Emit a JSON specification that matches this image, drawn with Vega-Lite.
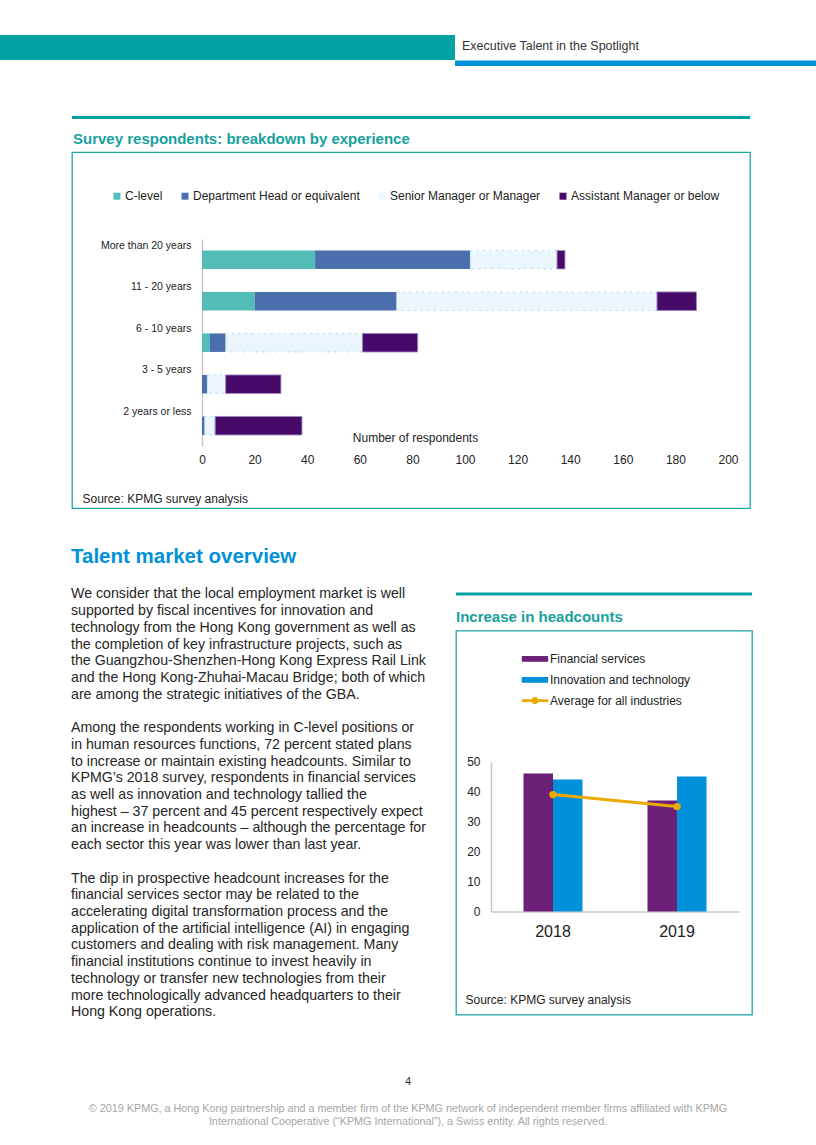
{
  "$schema": "https://vega.github.io/schema/vega-lite/v6.json",
  "padding": {"left": 0, "top": 35, "right": 0, "bottom": 0},
  "background": "white",
  "config": {
    "font": "Liberation Sans",
    "view": {"stroke": null},
    "axis": {"labelFont": "Liberation Sans", "titleFont": "Liberation Sans"},
    "legend": {"labelFont": "Liberation Sans"},
    "title": {"font": "Liberation Sans"}
  },
  "spacing": 0,
  "resolve": {"scale": {"color": "independent", "fill": "independent"}, "legend": {"color": "independent", "fill": "independent"}},
  "vconcat": [
    {
      "hconcat": [
        {"width": 455, "height": 25, "view": {"fill": "#00a3a1", "stroke": null}, "data": {"values": []}, "mark": "rect", "encoding": {}},
        {
          "vconcat": [
            {"width": 1, "height": 1, "data": {"values": []}, "mark": "rect", "encoding": {}},
            {
              "width": 361, "height": 5.5,
              "view": {"fill": "#0091da", "stroke": null},
              "title": {"text": "Executive Talent in the Spotlight", "anchor": "start", "fontSize": 12.5, "fontWeight": "normal", "color": "#333333", "offset": 8, "dx": 7},
              "data": {"values": []}, "mark": "rect", "encoding": {}
            }
          ],
          "spacing": 3.6
        }
      ],
      "spacing": 0
    },
    {"width": 1, "height": 48.3, "data": {"values": []}, "mark": "rect", "encoding": {}},
    {
      "resolve": {"scale": {"color": "independent", "fill": "independent"}, "legend": {"color": "independent", "fill": "independent"}},
      "hconcat": [
        {"width": 71, "height": 1, "data": {"values": []}, "mark": "rect", "encoding": {}},
        {
          "resolve": {"scale": {"color": "independent", "fill": "independent"}, "legend": {"color": "independent", "fill": "independent"}},
          "vconcat": [
            {"width": 678, "height": 3, "view": {"fill": "#00a3a1", "stroke": null}, "data": {"values": []}, "mark": "rect", "encoding": {}},
            {
              "width": 678, "height": 356,
              "view": {"stroke": "#1ba7a3", "strokeWidth": 1.3},
              "title": {"text": "Survey respondents: breakdown by experience", "anchor": "start", "fontSize": 15, "fontWeight": "bold", "color": "#17a19d", "offset": 5, "dx": 1},
              "data": {"values": [
                {"experience": "More than 20 years", "level": "C-level", "rank": 1, "respondents": 43},
                {"experience": "More than 20 years", "level": "Department Head or equivalent", "rank": 2, "respondents": 59},
                {"experience": "More than 20 years", "level": "Senior Manager or Manager", "rank": 3, "respondents": 33},
                {"experience": "More than 20 years", "level": "Assistant Manager or below", "rank": 4, "respondents": 3},
                {"experience": "11 - 20 years", "level": "C-level", "rank": 1, "respondents": 20},
                {"experience": "11 - 20 years", "level": "Department Head or equivalent", "rank": 2, "respondents": 54},
                {"experience": "11 - 20 years", "level": "Senior Manager or Manager", "rank": 3, "respondents": 99},
                {"experience": "11 - 20 years", "level": "Assistant Manager or below", "rank": 4, "respondents": 15},
                {"experience": "6 - 10 years", "level": "C-level", "rank": 1, "respondents": 3},
                {"experience": "6 - 10 years", "level": "Department Head or equivalent", "rank": 2, "respondents": 6},
                {"experience": "6 - 10 years", "level": "Senior Manager or Manager", "rank": 3, "respondents": 52},
                {"experience": "6 - 10 years", "level": "Assistant Manager or below", "rank": 4, "respondents": 21},
                {"experience": "3 - 5 years", "level": "C-level", "rank": 1, "respondents": 0},
                {"experience": "3 - 5 years", "level": "Department Head or equivalent", "rank": 2, "respondents": 2},
                {"experience": "3 - 5 years", "level": "Senior Manager or Manager", "rank": 3, "respondents": 7},
                {"experience": "3 - 5 years", "level": "Assistant Manager or below", "rank": 4, "respondents": 21},
                {"experience": "2 years or less", "level": "C-level", "rank": 1, "respondents": 0},
                {"experience": "2 years or less", "level": "Department Head or equivalent", "rank": 2, "respondents": 1},
                {"experience": "2 years or less", "level": "Senior Manager or Manager", "rank": 3, "respondents": 4},
                {"experience": "2 years or less", "level": "Assistant Manager or below", "rank": 4, "respondents": 33}
              ]},
              "mark": {"type": "bar", "strokeWidth": 1},
              "encoding": {
                "y": {
                  "field": "experience", "type": "nominal",
                  "sort": ["More than 20 years", "11 - 20 years", "6 - 10 years", "3 - 5 years", "2 years or less"],
                  "scale": {"range": [86.75, 294.25], "paddingInner": 0.554, "paddingOuter": 0.277},
                  "axis": {
                    "offset": -130, "domainColor": "#c8c8c8", "domainWidth": 1.5, "ticks": false, "grid": false,
                    "labelOffset": -14, "labelPadding": 11, "labelFontSize": 10.5, "labelColor": "#222222",
                    "title": "Source: KPMG survey analysis", "titleAngle": 0, "titleAlign": "left", "titleBaseline": "middle",
                    "titleX": -120, "titleY": 346, "titleFontSize": 12, "titleFontWeight": "normal", "titleColor": "#222222"
                  }
                },
                "x": {
                  "field": "respondents", "type": "quantitative", "stack": "zero",
                  "scale": {"domain": [0, 200], "range": [130, 656], "nice": false},
                  "axis": {
                    "offset": -62, "values": [0, 20, 40, 60, 80, 100, 120, 140, 160, 180, 200], "labelFlush": false,
                    "domain": false, "ticks": false, "grid": false, "labelPadding": 8, "labelFontSize": 12, "labelColor": "#222222",
                    "title": "Number of respondents", "titleX": 343, "titleY": -9, "titleAlign": "center", "titleBaseline": "middle",
                    "titleFontSize": 12, "titleFontWeight": "normal", "titleColor": "#222222"
                  }
                },
                "color": {
                  "field": "level", "type": "nominal",
                  "scale": {
                    "domain": ["C-level", "Department Head or equivalent", "Senior Manager or Manager", "Assistant Manager or below"],
                    "range": ["#52bcb7", "#4b6fad", "#eaf5fc", "#470a68"]
                  },
                  "legend": {
                    "orient": "none", "legendX": 39, "legendY": 38, "direction": "horizontal", "columns": 4,
                    "title": null, "symbolType": "square", "symbolSize": 49, "symbolStrokeWidth": 0,
                    "labelFontSize": 12, "labelColor": "#222222", "labelOffset": 2, "columnPadding": 16, "padding": 0, "labelLimit": 300
                  }
                },
                "order": {"field": "rank", "type": "quantitative"},
                "stroke": {
                  "condition": [
                    {"test": "datum.level === 'Senior Manager or Manager'", "value": "#9fd3ef"},
                    {"test": "datum.level === 'Assistant Manager or below'", "value": "#9d86c0"}
                  ],
                  "value": "transparent"
                },
                "strokeDash": {
                  "condition": {"test": "datum.level === 'Senior Manager or Manager'", "value": [1.5, 5]},
                  "value": [1, 0]
                }
              }
            }
          ],
          "spacing": 12.2
        }
      ],
      "spacing": 0
    },
    {"width": 1, "height": 36.6, "data": {"values": []}, "mark": "rect", "encoding": {}},
    {
      "resolve": {"scale": {"color": "independent", "fill": "independent"}, "legend": {"color": "independent", "fill": "independent"}},
      "hconcat": [
        {"width": 71, "height": 1, "data": {"values": []}, "mark": "rect", "encoding": {}},
        {
          "width": 384, "height": 434.7,
          "title": {"text": "Talent market overview", "anchor": "start", "fontSize": 20.5, "fontWeight": "bold", "color": "#0091da", "offset": 18.8},
          "data": {"values": [
            {"line": 0, "text": "We consider that the local employment market is well"},
            {"line": 1, "text": "supported by fiscal incentives for innovation and"},
            {"line": 2, "text": "technology from the Hong Kong government as well as"},
            {"line": 3, "text": "the completion of key infrastructure projects, such as"},
            {"line": 4, "text": "the Guangzhou-Shenzhen-Hong Kong Express Rail Link"},
            {"line": 5, "text": "and the Hong Kong-Zhuhai-Macau Bridge; both of which"},
            {"line": 6, "text": "are among the strategic initiatives of the GBA."},
            {"line": 8, "text": "Among the respondents working in C-level positions or"},
            {"line": 9, "text": "in human resources functions, 72 percent stated plans"},
            {"line": 10, "text": "to increase or maintain existing headcounts. Similar to"},
            {"line": 11, "text": "KPMG’s 2018 survey, respondents in financial services"},
            {"line": 12, "text": "as well as innovation and technology tallied the"},
            {"line": 13, "text": "highest – 37 percent and 45 percent respectively expect"},
            {"line": 14, "text": "an increase in headcounts – although the percentage for"},
            {"line": 15, "text": "each sector this year was lower than last year."},
            {"line": 17, "text": "The dip in prospective headcount increases for the"},
            {"line": 18, "text": "financial services sector may be related to the"},
            {"line": 19, "text": "accelerating digital transformation process and the"},
            {"line": 20, "text": "application of the artificial intelligence (AI) in engaging"},
            {"line": 21, "text": "customers and dealing with risk management. Many"},
            {"line": 22, "text": "financial institutions continue to invest heavily in"},
            {"line": 23, "text": "technology or transfer new technologies from their"},
            {"line": 24, "text": "more technologically advanced headquarters to their"},
            {"line": 25, "text": "Hong Kong operations."}
          ]},
          "mark": {"type": "text", "align": "left", "baseline": "middle", "fontSize": 14.2, "color": "#262626"},
          "encoding": {
            "x": {"datum": 0, "type": "quantitative", "scale": {"domain": [0, 1]}, "axis": null},
            "y": {"field": "line", "type": "quantitative", "scale": {"domain": [-0.5, 25.5], "reverse": true, "nice": false, "zero": false}, "axis": null},
            "text": {"field": "text"}
          }
        },
        {
          "resolve": {"scale": {"color": "independent", "fill": "independent"}, "legend": {"color": "independent", "fill": "independent"}},
          "vconcat": [
            {
              "vconcat": [
                {"width": 1, "height": 1, "data": {"values": []}, "mark": "rect", "encoding": {}},
                {"width": 296, "height": 3, "view": {"fill": "#00a3a1", "stroke": null}, "data": {"values": []}, "mark": "rect", "encoding": {}}
              ],
              "spacing": 5.4
            },
            {
              "width": 296, "height": 384,
              "view": {"stroke": "#1ba7a3", "strokeWidth": 1.3},
              "title": {"text": "Increase in headcounts", "anchor": "start", "fontSize": 15, "fontWeight": "bold", "color": "#17a19d", "offset": 5.4},
              "layer": [
                {
                  "data": {"values": [
                    {"year": "2018", "sector": "Financial services", "pct": 46},
                    {"year": "2018", "sector": "Innovation and technology", "pct": 44},
                    {"year": "2019", "sector": "Financial services", "pct": 37},
                    {"year": "2019", "sector": "Innovation and technology", "pct": 45}
                  ]},
                  "mark": {"type": "bar"},
                  "encoding": {
                    "x": {
                      "field": "year", "type": "nominal",
                      "scale": {"range": [35, 283], "paddingInner": 0.524, "paddingOuter": 0.262},
                      "axis": {"offset": -103, "domainColor": "#c8c8c8", "domainWidth": 1.5, "ticks": false, "grid": false, "labelAngle": 0, "labelFontSize": 16, "labelPadding": 12, "labelColor": "#222222", "title": null}
                    },
                    "xOffset": {"field": "sector", "type": "nominal", "sort": ["Financial services", "Innovation and technology"], "scale": {"paddingInner": 0, "paddingOuter": 0}},
                    "y": {
                      "field": "pct", "type": "quantitative",
                      "scale": {"domain": [0, 50], "range": [281, 131], "nice": false},
                      "axis": {
                        "offset": -35, "values": [0, 10, 20, 30, 40, 50], "domainColor": "#c8c8c8", "domainWidth": 1.5, "ticks": false, "grid": false,
                        "labelPadding": 11, "labelFontSize": 12, "labelColor": "#222222",
                        "title": "Source: KPMG survey analysis", "titleAngle": 0, "titleAlign": "left", "titleBaseline": "middle",
                        "titleX": -26, "titleY": 369, "titleFontSize": 12, "titleFontWeight": "normal", "titleColor": "#222222"
                      }
                    },
                    "color": {
                      "field": "sector", "type": "nominal",
                      "scale": {"domain": ["Financial services", "Innovation and technology"], "range": ["#6d2077", "#0091da"]},
                      "legend": {
                        "orient": "none", "legendX": 73, "legendY": 22.3, "direction": "vertical", "title": null,
                        "symbolType": "M-2.2,-0.48H2.2V0.48H-2.2Z", "symbolSize": 144, "symbolStrokeWidth": 0,
                        "labelOffset": 9, "labelFontSize": 12, "labelColor": "#222222", "rowPadding": 9, "padding": 0
                      }
                    }
                  }
                },
                {
                  "data": {"values": [
                    {"year": "2018", "series": "Average for all industries", "pct": 39},
                    {"year": "2019", "series": "Average for all industries", "pct": 35}
                  ]},
                  "mark": {"type": "line", "color": "#eaaa00", "strokeWidth": 3},
                  "encoding": {
                    "x": {"field": "year", "type": "nominal"},
                    "y": {"field": "pct", "type": "quantitative"}
                  }
                },
                {
                  "data": {"values": [
                    {"year": "2018", "series": "Average for all industries", "pct": 39},
                    {"year": "2019", "series": "Average for all industries", "pct": 35}
                  ]},
                  "mark": {"type": "point", "filled": true, "size": 55, "opacity": 1},
                  "encoding": {
                    "x": {"field": "year", "type": "nominal"},
                    "y": {"field": "pct", "type": "quantitative"},
                    "fill": {
                      "field": "series", "type": "nominal",
                      "scale": {"domain": ["Average for all industries"], "range": ["#eaaa00"]},
                      "legend": {
                        "orient": "none", "legendX": 73, "legendY": 64, "direction": "vertical", "title": null,
                        "symbolType": "M-2.2,-0.24H2.2V0.24H-2.2Z M0.6,0A0.6,0.6 0 1,1 -0.6,0A0.6,0.6 0 1,1 0.6,0Z",
                        "symbolSize": 144, "symbolStrokeWidth": 0, "symbolOpacity": 1,
                        "labelOffset": 9, "labelFontSize": 12, "labelColor": "#222222", "padding": 0
                      }
                    }
                  }
                }
              ]
            }
          ],
          "spacing": 12.6
        }
      ],
      "spacing": 0
    },
    {"width": 1, "height": 54, "data": {"values": []}, "mark": "rect", "encoding": {}},
    {
      "width": 816, "height": 54,
      "layer": [
        {
          "data": {"values": [{"line": 0, "text": "4"}]},
          "mark": {"type": "text", "fontSize": 11, "color": "#333333", "baseline": "middle"},
          "encoding": {
            "y": {"field": "line", "type": "quantitative", "scale": {"domain": [-0.5, 3.5], "reverse": true, "nice": false, "zero": false}, "axis": null},
            "text": {"field": "text"}
          }
        },
        {
          "data": {"values": [
            {"line": 2, "text": "© 2019 KPMG, a Hong Kong partnership and a member firm of the KPMG network of independent member firms affiliated with KPMG"},
            {"line": 3, "text": "International Cooperative (“KPMG International”), a Swiss entity. All rights reserved."}
          ]},
          "mark": {"type": "text", "fontSize": 10.8, "color": "#a6a6a6", "baseline": "middle"},
          "encoding": {
            "y": {"field": "line", "type": "quantitative", "axis": null},
            "text": {"field": "text"}
          }
        }
      ]
    }
  ]
}
